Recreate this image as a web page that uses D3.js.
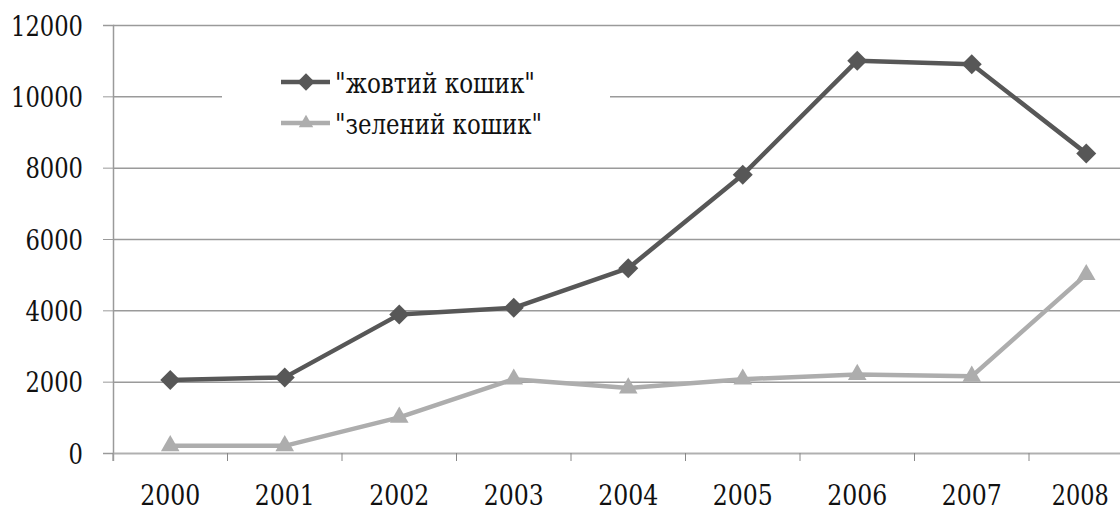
<!DOCTYPE html>
<html>
<head>
<meta charset="utf-8">
<script src="https://cdn.jsdelivr.net/npm/d3@7"></script>
<style>
  body { margin: 0; background: #fff; }
  svg { display: block; }
</style>
</head>
<body>
<svg></svg>
<script>
let years = ['2000', '2001', '2002', '2003', '2004', '2005', '2006', '2007', '2008']
let yellowBasket = [2050, 2120, 3880, 4070, 5180, 7800, 11000, 10900, 8400]
let greenBasket = [200, 200, 1000, 2070, 1820, 2070, 2200, 2150, 5000]
let yTicks = [0, 2000, 4000, 6000, 8000, 10000, 12000]
let seriesNames = ['"жовтий кошик"', '"зелений кошик"']

let width = 1120
let height = 513
let plotLeft = 113
let plotTop = 25
let plotBottom = 453
let step = 114.5
let serif = 'DejaVu Serif'

let svg = d3.select('svg')
    .attr('width', width)
    .attr('height', height)

let xScale = d3.scaleBand()
    .domain(years)
    .range([plotLeft, plotLeft + step * years.length])

let yScale = d3.scaleLinear()
    .domain([0, 12000])
    .range([plotBottom, plotTop])

// gridlines
svg.append('g')
    .attr('transform', `translate(${plotLeft}, 0)`)
    .call(d3.axisLeft(yScale).tickValues(yTicks).tickSize(-(width - plotLeft)).tickFormat(''))
    .call(g => g.select('.domain').remove())
    .call(g => g.selectAll('line').attr('stroke', '#9a9a9a').attr('stroke-width', 1.5))

// y axis
let yAxis = svg.append('g')
    .attr('transform', `translate(${plotLeft}, 0)`)
    .call(d3.axisLeft(yScale).tickValues(yTicks).tickFormat(d3.format('d')).tickSize(10))
    .attr('font-family', serif)
yAxis.select('.domain').attr('stroke', '#9a9a9a').attr('stroke-width', 1.5)
yAxis.selectAll('line').attr('stroke', '#9a9a9a')
yAxis.selectAll('text')
    .attr('font-size', 28)
    .attr('fill', '#111')
    .attr('x', -30)
    .attr('dy', '0.36em')
    .attr('textLength', d => String(d).length * 14.4)
    .attr('lengthAdjust', 'spacingAndGlyphs')

// x axis
let xAxis = svg.append('g')
    .attr('transform', `translate(0, ${plotBottom})`)
    .call(d3.axisBottom(xScale).tickSize(8))
    .attr('font-family', serif)
xAxis.select('.domain').attr('stroke', '#b0b0b0').attr('stroke-width', 1.5)
xAxis.selectAll('.tick line')
    .attr('stroke', '#888')
    .attr('transform', `translate(${-xScale.bandwidth() / 2}, 0)`)
xAxis.selectAll('text')
    .attr('font-size', 27)
    .attr('fill', '#111')
    .attr('y', 52)
    .attr('dy', 0)
    .attr('x', (d, i) => i === years.length - 1 ? -6 : 0)
    .attr('textLength', (d, i) => i === years.length - 1 ? 57 : 60)
    .attr('lengthAdjust', 'spacingAndGlyphs')

let cx = (d, i) => xScale(years[i]) + xScale.bandwidth() / 2

let line = d3.line()
    .x(cx)
    .y(d => yScale(d))

// legend box covers gridline
let legend = svg.append('g')
legend.append('rect')
    .attr('x', 222).attr('y', 58).attr('width', 388).attr('height', 90)
    .attr('fill', '#fff')

let drawSeries = (values, color, symbol, size) => {
    svg.append('path')
        .datum(values)
        .attr('fill', 'none')
        .attr('stroke', color)
        .attr('stroke-width', 4.5)
        .attr('stroke-linejoin', 'round')
        .attr('d', line)

    svg.selectAll(null)
        .data(values)
        .enter()
        .append('path')
        .attr('d', d3.symbol().type(symbol).size(size))
        .attr('transform', (d, i) => `translate(${cx(d, i)}, ${yScale(d)})` + (symbol === d3.symbolSquare ? ' rotate(45)' : ''))
        .attr('fill', color)
}

drawSeries(yellowBasket, '#575757', d3.symbolSquare, 200)
drawSeries(greenBasket, '#adadad', d3.symbolTriangle, 150)

// legend entries
let legendRows = [
    { name: seriesNames[0], color: '#575757', symbol: d3.symbolSquare, size: 150, y: 82, w: 200 },
    { name: seriesNames[1], color: '#adadad', symbol: d3.symbolTriangle, size: 90, y: 123, w: 207 }
]
legendRows.forEach(r => {
    legend.append('line')
        .attr('x1', 281).attr('x2', 330)
        .attr('y1', r.y).attr('y2', r.y)
        .attr('stroke', r.color).attr('stroke-width', 4.5)
    legend.append('path')
        .attr('d', d3.symbol().type(r.symbol).size(r.size))
        .attr('transform', `translate(306, ${r.y})` + (r.symbol === d3.symbolSquare ? ' rotate(45)' : ''))
        .attr('fill', r.color)
    legend.append('text')
        .attr('x', 335).attr('y', r.y + 11)
        .attr('font-size', 28)
        .attr('font-family', serif)
        .attr('fill', '#111')
        .attr('textLength', r.w)
        .attr('lengthAdjust', 'spacingAndGlyphs')
        .text(r.name)
})
</script>
</body>
</html>
